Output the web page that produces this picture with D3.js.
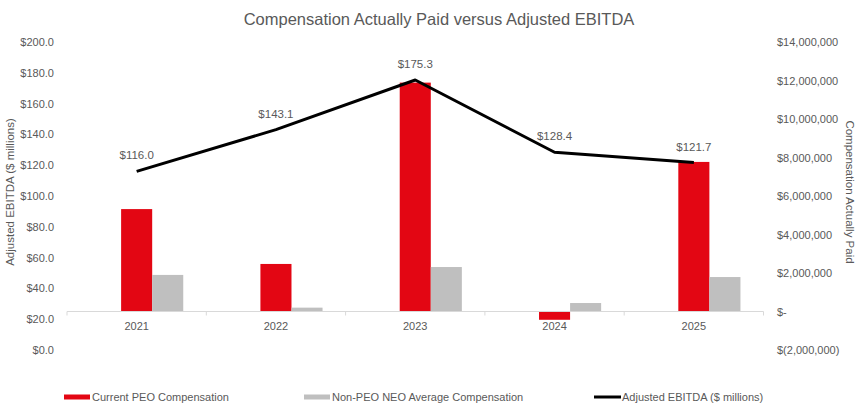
<!DOCTYPE html>
<html>
<head>
<meta charset="utf-8">
<script src="https://cdn.jsdelivr.net/npm/d3@7"></script>
<style>
  body { margin: 0; background: #fff; }
  text { font-family: "Liberation Sans", Arial, sans-serif; fill: #595959; }
</style>
</head>
<body>
<div class="vis-chart"></div>
<script>
const years = ["2021", "2022", "2023", "2024", "2025"];
const ebitda = [116.0, 143.1, 175.3, 128.4, 121.7];
const peoComp = [5320000, 2470000, 11890000, -430000, 7770000];
const neoComp = [1900000, 200000, 2310000, 440000, 1790000];
const leftTicks = [0, 20, 40, 60, 80, 100, 120, 140, 160, 180, 200];
const rightTicks = [-2000000, 0, 2000000, 4000000, 6000000, 8000000, 10000000, 12000000, 14000000];
const legendItems = ["Current PEO Compensation", "Non-PEO NEO Average Compensation", "Adjusted EBITDA ($ millions)"];

const width = 866, height = 409;
const plot = {left: 67, right: 763.5, top: 42, bottom: 350};
const red = "#E30613", gray = "#BFBFBF";

const svg = d3.select(".vis-chart").append("svg")
    .attr("width", width)
    .attr("height", height);

let x = d3.scaleBand().domain(years).range([plot.left, plot.right]).padding(0);
let yLeft = d3.scaleLinear().domain([0, 200]).range([plot.bottom, plot.top]);
let yRight = d3.scaleLinear().domain([-2000000, 14000000]).range([plot.bottom, plot.top]);

const cx = d => x(d) + x.bandwidth() / 2;
const barW = x.bandwidth() * 0.223;

// title
svg.append("text")
    .attr("x", 439).attr("y", 25)
    .attr("text-anchor", "middle")
    .style("font-size", "16.5px")
    .text("Compensation Actually Paid versus Adjusted EBITDA");

// left axis
svg.append("g")
    .attr("transform", "translate(54,0)")
    .call(d3.axisLeft(yLeft).tickValues(leftTicks).tickSize(0).tickPadding(0)
        .tickFormat(d => "$" + d3.format(".1f")(d)))
    .call(g => g.select(".domain").remove())
    .selectAll("text").style("font-size", "11px").attr("fill", "#595959");

// right axis
const rightFmt = d => d === 0 ? "$-" : d < 0 ? "$(" + d3.format(",")(-d) + ")" : "$" + d3.format(",")(d);
svg.append("g")
    .attr("transform", "translate(777,0)")
    .call(d3.axisRight(yRight).tickValues(rightTicks).tickSize(0).tickPadding(0).tickFormat(rightFmt))
    .call(g => g.select(".domain").remove())
    .selectAll("text").style("font-size", "11px").attr("fill", "#595959");

// axis titles
svg.append("text")
    .attr("transform", "translate(14,192) rotate(-90)")
    .attr("text-anchor", "middle")
    .style("font-size", "11.5px")
    .text("Adjusted EBITDA ($ millions)");
svg.append("text")
    .attr("transform", "translate(846,192) rotate(90)")
    .attr("text-anchor", "middle")
    .style("font-size", "11.5px")
    .text("Compensation Actually Paid");

// bars
svg.append("g").selectAll("rect")
    .data(years)
    .join("rect")
    .attr("x", d => cx(d) - barW / 2)
    .attr("width", barW)
    .attr("y", (d, i) => yRight(Math.max(0, peoComp[i])))
    .attr("height", (d, i) => Math.abs(yRight(peoComp[i]) - yRight(0)))
    .attr("fill", red);

svg.append("g").selectAll("rect")
    .data(years)
    .join("rect")
    .attr("x", d => cx(d) + barW / 2)
    .attr("width", barW)
    .attr("y", (d, i) => yRight(Math.max(0, neoComp[i])))
    .attr("height", (d, i) => Math.abs(yRight(neoComp[i]) - yRight(0)))
    .attr("fill", gray);

// category axis at right-axis zero
const y0 = yRight(0);
svg.append("line")
    .attr("x1", plot.left).attr("x2", plot.right)
    .attr("y1", y0).attr("y2", y0)
    .attr("stroke", "#D9D9D9");
svg.append("g").selectAll("line")
    .data(years.map(d => x(d)).concat([plot.right]))
    .join("line")
    .attr("x1", d => d).attr("x2", d => d)
    .attr("y1", y0).attr("y2", y0 + 4)
    .attr("stroke", "#D9D9D9");
svg.append("g").selectAll("text")
    .data(years)
    .join("text")
    .attr("x", d => cx(d))
    .attr("y", y0 + 18)
    .attr("text-anchor", "middle")
    .style("font-size", "11px")
    .text(d => d);

// EBITDA line
let line = d3.line()
    .x((d, i) => cx(years[i]))
    .y(d => yLeft(d));
svg.append("path")
    .datum(ebitda)
    .attr("d", line)
    .attr("fill", "none")
    .attr("stroke", "#000")
    .attr("stroke-width", 3)
    .attr("stroke-linejoin", "round");

svg.append("g").selectAll("text")
    .data(ebitda)
    .join("text")
    .attr("x", (d, i) => cx(years[i]))
    .attr("y", d => yLeft(d) - 12)
    .attr("text-anchor", "middle")
    .style("font-size", "11.5px")
    .text(d => "$" + d3.format(".1f")(d));

// legend
const legX = [64, 304, 594];
legendItems.forEach((name, i) => {
    const g = svg.append("g").attr("transform", "translate(" + legX[i] + ",397)");
    if (i < 2) {
        g.append("rect").attr("x", 0).attr("y", -2.5).attr("width", 26).attr("height", 5)
            .attr("fill", i === 0 ? red : gray);
    } else {
        g.append("line").attr("x1", 0).attr("x2", 27).attr("y1", 0).attr("y2", 0)
            .attr("stroke", "#000").attr("stroke-width", 3);
    }
    g.append("text").attr("x", 28).attr("y", 4).style("font-size", "11px").text(name);
});
</script>
</body>
</html>
